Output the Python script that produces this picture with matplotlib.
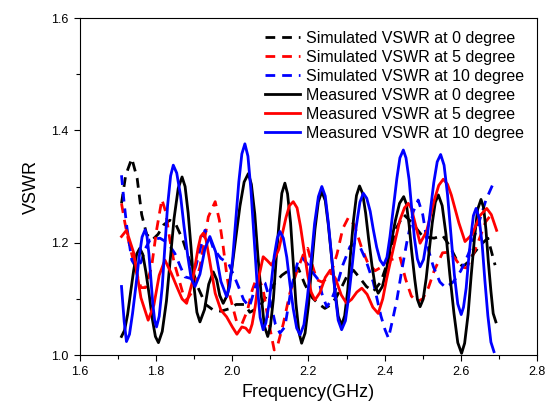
import matplotlib
matplotlib.use("Agg")
import matplotlib.pyplot as plt
from matplotlib.ticker import MultipleLocator

plt.rcParams['font.family'] = ['Liberation Sans', 'DejaVu Sans']
plt.rcParams['lines.scale_dashes'] = False

# simulated VSWR at 0 degree (black dashed)
f_sim0 = [1.709, 1.72, 1.736, 1.75, 1.762, 1.775, 1.79, 1.805, 1.82, 1.836, 1.852, 1.87, 1.89, 1.91,
          1.93, 1.95, 1.97, 1.99, 2.01, 2.033, 2.046, 2.07, 2.09, 2.108, 2.13, 2.151, 2.173, 2.191,
          2.21, 2.225, 2.243, 2.26, 2.274, 2.29, 2.30, 2.318, 2.335, 2.352, 2.37, 2.39, 2.41, 2.43,
          2.45, 2.47, 2.5, 2.53, 2.552, 2.57, 2.587, 2.605, 2.618, 2.631, 2.65, 2.671, 2.684, 2.69]
v_sim0 = [1.27, 1.32, 1.35, 1.315, 1.25, 1.215, 1.205, 1.215, 1.232, 1.24, 1.232, 1.205, 1.163, 1.12,
          1.09, 1.08, 1.078, 1.082, 1.09, 1.09, 1.076, 1.085, 1.105, 1.125, 1.142, 1.152, 1.155, 1.125,
          1.102, 1.092, 1.083, 1.09, 1.104, 1.125, 1.139, 1.151, 1.137, 1.122, 1.113, 1.13, 1.17, 1.225,
          1.25, 1.237, 1.211, 1.208, 1.213, 1.195, 1.172, 1.157, 1.165, 1.178, 1.195, 1.208, 1.175, 1.16]

# simulated VSWR at 5 degree (red dashed)
f_sim5 = [1.709, 1.718, 1.727, 1.744, 1.76, 1.772, 1.788, 1.801, 1.815, 1.825, 1.836, 1.847, 1.858,
          1.87, 1.88, 1.897, 1.915, 1.927, 1.937, 1.955, 1.966, 1.976, 1.985, 1.994, 2.011, 2.025,
          2.04, 2.052, 2.065, 2.08, 2.095, 2.11, 2.12, 2.134, 2.151, 2.17, 2.187, 2.198, 2.21, 2.222,
          2.235, 2.257, 2.275, 2.29, 2.305, 2.32, 2.34, 2.355, 2.375, 2.395, 2.414, 2.44, 2.455, 2.47,
          2.485, 2.5, 2.515, 2.53, 2.552, 2.57, 2.585, 2.6, 2.615, 2.63, 2.645, 2.665, 2.68]
v_sim5 = [1.27, 1.235, 1.205, 1.157, 1.12, 1.12, 1.157, 1.222, 1.277, 1.255, 1.205, 1.165, 1.139,
          1.11, 1.098, 1.115, 1.157, 1.205, 1.246, 1.273, 1.24, 1.193, 1.145, 1.104, 1.06, 1.055,
          1.08, 1.115, 1.14, 1.12, 1.06, 1.009, 1.02, 1.056, 1.11, 1.15, 1.18, 1.19, 1.16, 1.134,
          1.13, 1.14, 1.18, 1.225, 1.245, 1.232, 1.19, 1.165, 1.15, 1.158, 1.169, 1.175, 1.135, 1.105,
          1.095, 1.1, 1.12, 1.15, 1.182, 1.183, 1.172, 1.157, 1.155, 1.175, 1.2, 1.237, 1.25]

# simulated VSWR at 10 degree (blue dashed)
f_sim10 = [1.709, 1.716, 1.723, 1.736, 1.748, 1.76, 1.772, 1.784, 1.81, 1.83, 1.849, 1.865, 1.876,
           1.893, 1.905, 1.915, 1.928, 1.94, 1.95, 1.97, 1.99, 2.005, 2.016, 2.03, 2.045, 2.06, 2.07,
           2.086, 2.1, 2.113, 2.125, 2.138, 2.155, 2.173, 2.185, 2.2, 2.213, 2.226, 2.237, 2.248, 2.26,
           2.274, 2.29, 2.309, 2.322, 2.335, 2.35, 2.37, 2.39, 2.401, 2.41, 2.42, 2.432, 2.445, 2.458,
           2.475, 2.488, 2.5, 2.515, 2.528, 2.545, 2.56, 2.58, 2.6, 2.62, 2.64, 2.666, 2.688]
v_sim10 = [1.32, 1.27, 1.228, 1.169, 1.155, 1.165, 1.19, 1.205, 1.208, 1.2, 1.181, 1.155, 1.139,
           1.136, 1.16, 1.187, 1.222, 1.21, 1.19, 1.172, 1.163, 1.14, 1.122, 1.098, 1.086, 1.12, 1.135,
           1.128, 1.095, 1.055, 1.039, 1.05, 1.12, 1.169, 1.172, 1.16, 1.145, 1.134, 1.105, 1.086, 1.098,
           1.122, 1.16, 1.193, 1.198, 1.193, 1.17, 1.13, 1.07, 1.045, 1.03, 1.06, 1.098, 1.151, 1.2,
           1.255, 1.276, 1.25, 1.187, 1.157, 1.13, 1.12, 1.13, 1.15, 1.18, 1.22, 1.276, 1.31]

# measured VSWR at 0 degree (black)
f_meas0 = [1.709, 1.717, 1.725, 1.733, 1.741, 1.749, 1.757, 1.765, 1.773, 1.782, 1.790, 1.798, 1.806,
           1.816, 1.827, 1.837, 1.847, 1.858, 1.868, 1.876, 1.884, 1.892, 1.899, 1.907, 1.915, 1.927,
           1.938, 1.95, 1.959, 1.967, 1.976, 1.987, 1.998, 2.009, 2.020, 2.031, 2.042, 2.050, 2.059,
           2.067, 2.076, 2.084, 2.093, 2.100, 2.108, 2.115, 2.123, 2.130, 2.138, 2.145, 2.153, 2.160,
           2.167, 2.175, 2.182, 2.191, 2.200, 2.208, 2.217, 2.226, 2.235, 2.244, 2.252, 2.261, 2.270,
           2.278, 2.287, 2.295, 2.303, 2.310, 2.318, 2.326, 2.334, 2.342, 2.350, 2.358, 2.367, 2.375,
           2.383, 2.394, 2.405, 2.416, 2.428, 2.439, 2.45, 2.457, 2.464, 2.471, 2.479, 2.486, 2.493,
           2.501, 2.509, 2.517, 2.525, 2.533, 2.541, 2.551, 2.561, 2.571, 2.582, 2.592, 2.602, 2.610,
           2.619, 2.627, 2.636, 2.644, 2.653, 2.660, 2.666, 2.672, 2.679, 2.685, 2.692]
v_meas0 = [1.033, 1.044, 1.072, 1.112, 1.151, 1.18, 1.19, 1.179, 1.148, 1.106, 1.064, 1.033, 1.022,
           1.042, 1.096, 1.17, 1.243, 1.297, 1.317, 1.30, 1.253, 1.188, 1.124, 1.076, 1.059, 1.081,
           1.126, 1.148, 1.134, 1.106, 1.092, 1.107, 1.150, 1.208, 1.265, 1.308, 1.323, 1.304, 1.251,
           1.178, 1.106, 1.052, 1.033, 1.051, 1.101, 1.17, 1.238, 1.288, 1.306, 1.287, 1.235, 1.164,
           1.092, 1.04, 1.021, 1.039, 1.089, 1.156, 1.224, 1.273, 1.291, 1.275, 1.232, 1.172, 1.113,
           1.069, 1.053, 1.07, 1.115, 1.177, 1.239, 1.284, 1.301, 1.288, 1.253, 1.206, 1.158, 1.123,
           1.11, 1.122, 1.153, 1.196, 1.239, 1.27, 1.282, 1.269, 1.233, 1.184, 1.135, 1.099, 1.086,
           1.099, 1.136, 1.186, 1.235, 1.272, 1.285, 1.266, 1.215, 1.144, 1.074, 1.022, 1.003, 1.021,
           1.072, 1.14, 1.209, 1.259, 1.277, 1.262, 1.223, 1.168, 1.114, 1.074, 1.059]

# measured VSWR at 5 degree (red)
f_meas5 = [1.709, 1.722, 1.741, 1.760, 1.779, 1.794, 1.808, 1.823, 1.840, 1.854, 1.868, 1.88, 1.895,
           1.910, 1.917, 1.924, 1.931, 1.94, 1.955, 1.97, 1.985, 2.0, 2.012, 2.025, 2.035, 2.045, 2.052,
           2.06, 2.07, 2.081, 2.092, 2.103, 2.122, 2.141, 2.150, 2.16, 2.170, 2.179, 2.198, 2.207, 2.217,
           2.230, 2.244, 2.257, 2.271, 2.286, 2.30, 2.313, 2.327, 2.34, 2.354, 2.369, 2.383, 2.395,
           2.405, 2.414, 2.428, 2.44, 2.452, 2.462, 2.470, 2.478, 2.493, 2.51, 2.53, 2.542, 2.554,
           2.565, 2.575, 2.595, 2.611, 2.63, 2.65, 2.668, 2.68, 2.694]
v_meas5 = [1.211, 1.222, 1.182, 1.102, 1.062, 1.089, 1.142, 1.169, 1.145, 1.122, 1.10, 1.092, 1.13,
           1.19, 1.211, 1.217, 1.205, 1.17, 1.11, 1.08, 1.068, 1.05, 1.037, 1.05, 1.048, 1.04, 1.055,
           1.086, 1.14, 1.175, 1.168, 1.16, 1.188, 1.245, 1.266, 1.273, 1.262, 1.229, 1.142, 1.112, 1.098,
           1.111, 1.138, 1.151, 1.136, 1.107, 1.092, 1.099, 1.112, 1.119, 1.108, 1.085, 1.074, 1.10,
           1.135, 1.163, 1.205, 1.24, 1.262, 1.27, 1.261, 1.24, 1.199, 1.22, 1.275, 1.302, 1.313,
           1.304, 1.285, 1.235, 1.202, 1.215, 1.248, 1.261, 1.25, 1.222]

# measured VSWR at 10 degree (blue)
f_meas10 = [1.709, 1.716, 1.722, 1.730, 1.738, 1.747, 1.755, 1.763, 1.771, 1.776, 1.781, 1.786, 1.791,
            1.796, 1.801, 1.808, 1.816, 1.823, 1.830, 1.838, 1.845, 1.854, 1.864, 1.873, 1.883, 1.892,
            1.902, 1.915, 1.928, 1.941, 1.956, 1.970, 1.985, 1.993, 2.001, 2.009, 2.017, 2.025, 2.033,
            2.041, 2.049, 2.057, 2.065, 2.073, 2.081, 2.088, 2.096, 2.103, 2.110, 2.118, 2.125, 2.134,
            2.143, 2.151, 2.160, 2.169, 2.178, 2.188, 2.197, 2.207, 2.216, 2.226, 2.235, 2.244, 2.252,
            2.261, 2.270, 2.278, 2.287, 2.297, 2.306, 2.316, 2.325, 2.335, 2.344, 2.353, 2.362, 2.370,
            2.379, 2.388, 2.397, 2.406, 2.414, 2.423, 2.432, 2.440, 2.449, 2.456, 2.464, 2.471, 2.478,
            2.486, 2.493, 2.502, 2.511, 2.520, 2.529, 2.538, 2.547, 2.556, 2.565, 2.574, 2.583, 2.592,
            2.601, 2.607, 2.614, 2.620, 2.627, 2.633, 2.64, 2.648, 2.656, 2.663, 2.671, 2.679, 2.687]
v_meas10 = [1.122, 1.06, 1.024, 1.037, 1.074, 1.124, 1.173, 1.21, 1.223, 1.211, 1.18, 1.137, 1.093,
            1.062, 1.05, 1.069, 1.122, 1.194, 1.266, 1.319, 1.338, 1.324, 1.284, 1.23, 1.176, 1.136,
            1.122, 1.144, 1.189, 1.211, 1.184, 1.131, 1.104, 1.122, 1.172, 1.24, 1.308, 1.358, 1.376,
            1.354, 1.293, 1.21, 1.128, 1.067, 1.045, 1.057, 1.089, 1.133, 1.176, 1.208, 1.22, 1.208,
            1.174, 1.128, 1.082, 1.048, 1.036, 1.054, 1.102, 1.168, 1.234, 1.282, 1.30, 1.283, 1.236,
            1.173, 1.109, 1.062, 1.045, 1.061, 1.106, 1.167, 1.227, 1.272, 1.288, 1.279, 1.256, 1.224,
            1.192, 1.169, 1.16, 1.174, 1.211, 1.263, 1.314, 1.351, 1.365, 1.351, 1.313, 1.261, 1.209,
            1.171, 1.157, 1.17, 1.207, 1.257, 1.307, 1.344, 1.357, 1.338, 1.286, 1.215, 1.143, 1.091,
            1.072, 1.085, 1.119, 1.167, 1.214, 1.248, 1.261, 1.244, 1.197, 1.134, 1.07, 1.023, 1.006]

x_ticks = [1.6, 1.8, 2.0, 2.2, 2.4, 2.6, 2.8]
y_ticks = [1.0, 1.2, 1.4, 1.6]

fig = plt.figure(figsize=(5.46, 4.12), dpi=100)
ax = fig.add_axes([0.1465, 0.1383, 0.837, 0.818])

dash = (0, (7, 5))
lw = 2.0
ax.plot(f_sim0, v_sim0, color='black', lw=lw, ls=dash, label='Simulated VSWR at 0 degree')
ax.plot(f_sim5, v_sim5, color='red', lw=lw, ls=dash, label='Simulated VSWR at 5 degree')
ax.plot(f_sim10, v_sim10, color='blue', lw=lw, ls=dash, label='Simulated VSWR at 10 degree')
ax.plot(f_meas0, v_meas0, color='black', lw=lw, label='Measured VSWR at 0 degree')
ax.plot(f_meas5, v_meas5, color='red', lw=lw, label='Measured VSWR at 5 degree')
ax.plot(f_meas10, v_meas10, color='blue', lw=lw, label='Measured VSWR at 10 degree')

ax.set_xlim(1.6, 2.8)
ax.set_ylim(1.0, 1.6)
ax.set_xticks(x_ticks)
ax.set_yticks(y_ticks)
ax.set_xticklabels([f'{t:.1f}' for t in x_ticks])
ax.set_yticklabels([f'{t:.1f}' for t in y_ticks])
ax.xaxis.set_minor_locator(MultipleLocator(0.1))
ax.yaxis.set_minor_locator(MultipleLocator(0.1))
ax.tick_params(which='major', direction='out', length=4.5, width=0.8, labelsize=9, top=False, right=False)
ax.tick_params(which='minor', direction='out', length=2.8, width=0.8, top=False, right=False)
for s in ax.spines.values():
    s.set_linewidth(0.8)

ax.set_xlabel('Frequency(GHz)', fontsize=13, labelpad=4)
ax.set_ylabel('VSWR', fontsize=13, labelpad=8)

ax.legend(loc='upper right', frameon=False, fontsize=11.5, handlelength=2.2,
          handletextpad=0.35, labelspacing=0.25, borderaxespad=0.4)

fig.savefig('out.png', dpi=100)
